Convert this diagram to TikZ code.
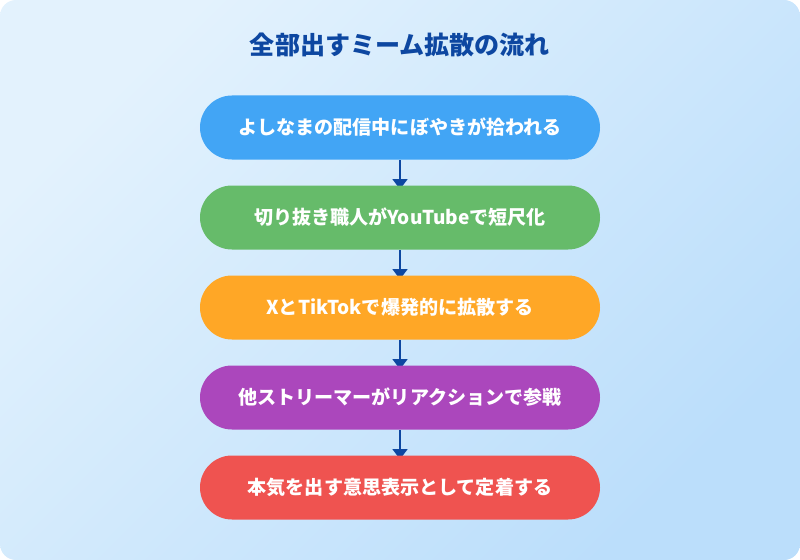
\documentclass[tikz,border=0pt]{standalone}
\usepackage{fontspec}
\setmainfont{Noto Sans CJK JP}
\usetikzlibrary{arrows.meta,shapes.misc,calc}
\pgfdeclarelayer{bglayer}
\pgfdeclarelayer{midlayer}
\pgfsetlayers{bglayer,midlayer,main}
\definecolor{bgA}{HTML}{E3F2FD}
\definecolor{bgB}{HTML}{BBDEFB}
\definecolor{titlec}{HTML}{0D47A1}
\definecolor{arrc}{HTML}{0D47A1}
\definecolor{cblue}{HTML}{42A5F5}
\definecolor{cgreen}{HTML}{66BB6A}
\definecolor{corange}{HTML}{FFA726}
\definecolor{cpurple}{HTML}{AB47BC}
\definecolor{cred}{HTML}{EF5350}
\tikzset{
  pill/.style={rounded rectangle, minimum width=300pt, minimum height=48pt, inner sep=0pt,
    text=white, font=\bfseries\fontsize{14.3pt}{16pt}\selectfont},
  flowarrow/.style={draw=arrc, line width=1.5pt, -{Triangle[length=7.5pt,width=11pt]}}
}
\begin{document}
\begin{tikzpicture}[x=0.75pt,y=-0.75pt]
\useasboundingbox (0,0) rectangle (800,560);
\begin{pgfonlayer}{bglayer}
\shade[left color=bgA, right color=bgB, shading angle=45, rounded corners=12pt] (0,0) rectangle (800,560);
\end{pgfonlayer}
\node[text=titlec, font=\bfseries\fontsize{18.8pt}{22pt}\selectfont] (title) at (400,45) {全部出すミーム拡散の流れ};
\node[pill, fill=cblue] (s1) at (400,127.5) {よしなまの配信中にぼやきが拾われる};
\node[pill, fill=cgreen] (s2) at (400,217.5) {切り抜き職人がYouTubeで短尺化};
\node[pill, fill=corange] (s3) at (400,307.5) {XとTikTokで爆発的に拡散する};
\node[pill, fill=cpurple] (s4) at (400,397.5) {他ストリーマーがリアクションで参戦};
\node[pill, fill=cred] (s5) at (400,487.5) {本気を出す意思表示として定着する};
\begin{pgfonlayer}{midlayer}
\draw[flowarrow] (s1.south) -- ($(s2.north)+(0,4)$);
\draw[flowarrow] (s2.south) -- ($(s3.north)+(0,4)$);
\draw[flowarrow] (s3.south) -- ($(s4.north)+(0,4)$);
\draw[flowarrow] (s4.south) -- ($(s5.north)+(0,4)$);
\end{pgfonlayer}
\end{tikzpicture}
\end{document}
